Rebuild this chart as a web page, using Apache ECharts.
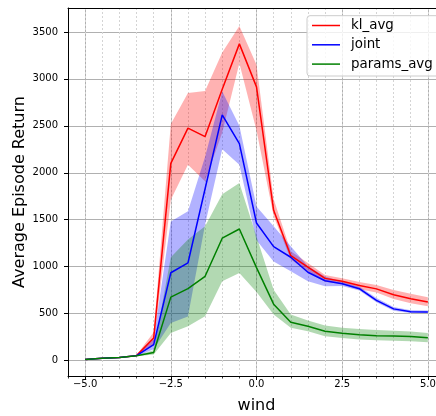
<!DOCTYPE html>
<html>
<head>
<meta charset="utf-8">
<script src="https://cdn.jsdelivr.net/npm/echarts@6/dist/echarts.min.js"></script>
<style>
html,body{margin:0;padding:0;background:#fff;}
#chart{width:436px;height:416px;}
</style>
</head>
<body>
<div id="chart"></div>
<script>
// ---- data ----
const wind = [-5, -4.5, -4, -3.5, -3, -2.5, -2, -1.5, -1, -0.5, 0, 0.5, 1, 1.5, 2, 2.5, 3, 3.5, 4, 4.5, 5];

const klAvg   = [12, 25, 32, 52, 240, 2100, 2476, 2385, 2890, 3373, 2915, 1600, 1117, 995, 875, 844, 798, 763, 700, 658, 624];
const klUpper = [18, 30, 38, 60, 300, 2520, 2850, 2870, 3280, 3564, 3150, 1720, 1163, 1040, 910, 875, 835, 805, 750, 710, 674];
const klLower = [8, 20, 26, 44, 170, 1713, 2085, 1910, 2430, 3167, 2450, 1540, 1075, 950, 840, 815, 760, 725, 655, 610, 578];

const jointAvg   = [12, 25, 32, 52, 170, 935, 1039, 1830, 2617, 2310, 1465, 1213, 1100, 940, 850, 818, 765, 640, 550, 520, 518];
const jointUpper = [16, 28, 36, 58, 230, 1480, 1590, 2170, 2865, 2500, 1640, 1429, 1216, 1003, 894, 840, 785, 665, 570, 535, 532];
const jointLower = [8, 22, 28, 46, 120, 400, 470, 1450, 2250, 2085, 1280, 1056, 950, 844, 791, 795, 745, 620, 530, 505, 505];

const paramsAvg   = [12, 25, 32, 50, 85, 675, 765, 897, 1303, 1401, 990, 600, 408, 365, 312, 290, 275, 265, 260, 255, 242];
const paramsUpper = [16, 28, 36, 55, 110, 1100, 1290, 1430, 1770, 1890, 1320, 755, 489, 426, 372, 348, 335, 325, 318, 310, 294];
const paramsLower = [8, 22, 28, 45, 64, 294, 365, 471, 844, 933, 730, 489, 348, 312, 259, 241, 225, 215, 210, 205, 195];

const xMajorTicks = [-5, -2.5, 0, 2.5, 5];
const yTicks = [0, 500, 1000, 1500, 2000, 2500, 3000, 3500];
const seriesNames = ['kl_avg', 'joint', 'params_avg'];

// ---- chart ----
const FONT = 'DejaVu Sans';
const chart = echarts.init(document.getElementById('chart'), null, {renderer: 'canvas'});

function pairs(xs, ys) { return xs.map((x, i) => [x, ys[i]]); }

function bandSeries(name, lower, upper, color) {
  return {
    type: 'custom',
    name: name + '_band',
    xAxisIndex: 0, yAxisIndex: 0,
    silent: true,
    z: 1,
    data: wind.map((x, i) => [x, lower[i], upper[i]]),
    encode: {x: 0, y: [1, 2]},
    renderItem: function (params, api) {
      if (params.dataIndex !== 0) return null;
      const n = wind.length;
      const pts = [];
      for (let i = 0; i < n; i++) pts.push(api.coord([wind[i], upper[i]]));
      for (let i = n - 1; i >= 0; i--) pts.push(api.coord([wind[i], lower[i]]));
      return {
        type: 'polygon',
        shape: {points: pts},
        style: {fill: color, opacity: 0.3, stroke: null}
      };
    }
  };
}

function lineSeries(name, values, color) {
  return {
    type: 'line',
    name: name,
    xAxisIndex: 0, yAxisIndex: 0,
    data: pairs(wind, values),
    symbol: 'none',
    z: 3,
    silent: true,
    lineStyle: {color: color, width: 1.5},
    itemStyle: {color: color}
  };
}

const fmtX = v => Number(v).toFixed(1).replace('-', '\u2212');
const fmtY = v => String(Math.round(v)).replace('-', '\u2212');
const lineIcon = 'path://M0,0 L28,0 L28,1.5 L0,1.5 Z';

const option = {
  animation: false,
  backgroundColor: '#ffffff',
  textStyle: {fontFamily: FONT},
  grid: {left: 68, top: 8, width: 377, height: 368, containLabel: false, outerBoundsMode: 'none', show: false},
  xAxis: [
    {
      type: 'value', min: -5.5, max: 5.5, position: 'bottom',
      name: 'wind', nameLocation: 'middle', nameGap: 22, nameMoveOverlap: false,
      nameTextStyle: {fontSize: 16, color: '#000', fontFamily: FONT},
      axisLine: {show: true, onZero: false, lineStyle: {color: '#000', width: 1}},
      axisTick: {show: true, customValues: xMajorTicks, length: 4, lineStyle: {color: '#000', width: 1}},
      axisLabel: {show: true, customValues: xMajorTicks, formatter: fmtX, fontSize: 10, color: '#000', margin: 3, fontFamily: FONT},
      splitLine: {show: true, lineStyle: {color: '#b0b0b0', width: 1}}
    },
    {
      type: 'value', min: -5.5, max: 5.5, interval: 0.5, position: 'bottom',
      axisLine: {show: false, onZero: false},
      axisTick: {show: true, length: 2.5, lineStyle: {color: '#000', width: 0.8}},
      axisLabel: {show: false},
      splitLine: {show: true, lineStyle: {color: '#d4d4d4', width: 1, type: [2, 2]}}
    },
    {
      type: 'value', min: -5.5, max: 5.5, position: 'top',
      axisLine: {show: true, onZero: false, lineStyle: {color: '#000', width: 1}},
      axisTick: {show: false}, axisLabel: {show: false}, splitLine: {show: false}
    }
  ],
  yAxis: [
    {
      type: 'value', min: -165, max: 3755,
      name: 'Average Episode Return', nameLocation: 'middle', nameGap: 40, nameMoveOverlap: false,
      nameTextStyle: {fontSize: 16, color: '#000', fontFamily: FONT},
      axisLine: {show: true, onZero: false, lineStyle: {color: '#000', width: 1}},
      axisTick: {show: true, customValues: yTicks, length: 4, lineStyle: {color: '#000', width: 1}},
      axisLabel: {show: true, customValues: yTicks, formatter: fmtY, fontSize: 10, color: '#000', margin: 10, fontFamily: FONT},
      splitLine: {show: true, lineStyle: {color: '#b0b0b0', width: 1}}
    }
  ],
  legend: {
    data: seriesNames.map(n => ({name: n, icon: lineIcon})),
    orient: 'vertical',
    left: 307, top: 15.7,
    padding: [3.3, 30, 5.4, 5],
    itemWidth: 28, itemHeight: 14, itemGap: 6.3,
    backgroundColor: 'rgba(255,255,255,0.8)',
    borderColor: '#cccccc', borderWidth: 1, borderRadius: 3,
    textStyle: {fontSize: 13.4, color: '#000', fontFamily: FONT, padding: [0, 0, 0, 6]},
    selectedMode: false
  },
  series: [
    bandSeries('kl_avg', klLower, klUpper, '#ff0000'),
    bandSeries('joint', jointLower, jointUpper, '#0000ff'),
    bandSeries('params_avg', paramsLower, paramsUpper, '#008000'),
    lineSeries('kl_avg', klAvg, '#ff0000'),
    lineSeries('joint', jointAvg, '#0000ff'),
    lineSeries('params_avg', paramsAvg, '#008000')
  ]
};
chart.setOption(option);
</script>
</body>
</html>
